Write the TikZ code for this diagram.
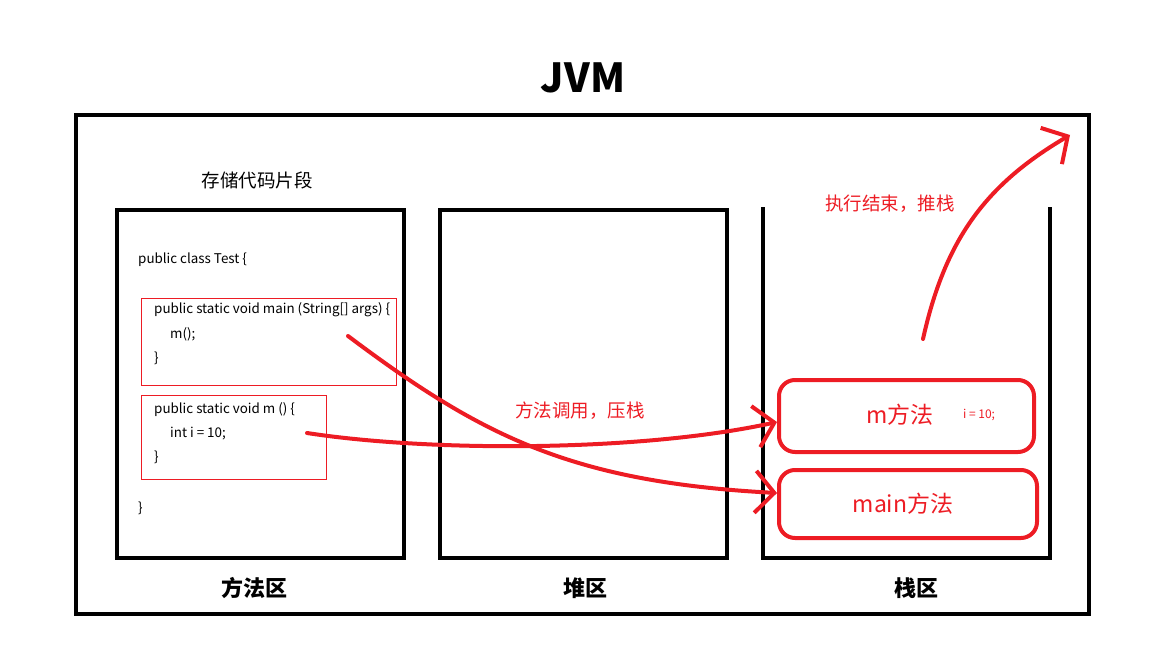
\documentclass[tikz,border=0pt]{standalone}
\usepackage{fontspec}
\setmainfont{Noto Sans CJK SC}
\usetikzlibrary{arrows.meta}
\definecolor{paintred}{HTML}{ED1C24}

\begin{document}
\begin{tikzpicture}[x=1pt, y=-1pt,
    every node/.style={inner sep=0pt},
    area/.style={draw, line width=4pt},
    code/.style={anchor=base west, font=\fontsize{13.4}{16}\selectfont},
    codebox/.style={draw=paintred, line width=1pt},
    frame/.style={draw=paintred, line width=4pt, rounded corners=16pt},
    note/.style={text=paintred, font=\fontsize{18.5}{20}\selectfont},
    areaname/.style={font=\bfseries\fontsize{22}{24}\selectfont},
    push/.style={draw=paintred, line width=4pt, line cap=round,
      -{Straight Barb[length=19pt, width=42pt]}}]
    \useasboundingbox (0,0) rectangle (1152,648);

    % title + outer box
    \node[font=\bfseries\fontsize{40}{44}\selectfont] (jvm) at (583,78) {JVM};
    \draw[area] (76,115) rectangle (1089,614);

    % the three areas
    \draw[area] (117,210) rectangle (404,558);
    \draw[area] (440,210) rectangle (727,558);
    \draw[area] (763,207) -- (763,558) -- (1050,558) -- (1050,207);
    \node[areaname] (methodname) at (254,588) {方法区};
    \node[areaname] (heapname)   at (585,588) {堆区};
    \node[areaname] (stackname)  at (916,588) {栈区};
    \node[font=\fontsize{18.5}{20}\selectfont] (store) at (257,180) {存储代码片段};

    % code in the method area
    \node[code] (cls)   at (138,263) {public class Test \{};
    \draw[codebox] (141,298) rectangle (396,385);
    \node[code] (mainl) at (154,313) {public static void main (String[] args) \{};
    \node[code] (callm) at (170,338) {m();};
    \node[code] (mainr) at (154,362) {\}};
    \draw[codebox] (141,395) rectangle (326,479);
    \node[code] (ml)    at (154,413) {public static void m () \{};
    \node[code] (mi)    at (170,437) {int i = 10;};
    \node[code] (mr)    at (154,461) {\}};
    \node[code] (clsr)  at (138,512) {\}};

    % stack frames
    \node[frame, minimum width=255pt, minimum height=72pt] (mframe) at (906.5,416) {};
    \node[frame, minimum width=258pt, minimum height=68pt] (mainframe) at (908,504) {};
    \node[text=paintred, font=\fontsize{23}{25}\selectfont] (mtext) at (900,415) {m方法};
    \node[text=paintred, font=\fontsize{12}{14}\selectfont] (itext) at (979,415) {i = 10;};
    \node[text=paintred, font=\fontsize{23}{25}\selectfont] (maintext) at (903,504) {main方法};

    % notes
    \node[note] (pushnote) at (580,411) {方法调用，压栈};
    \node[note] (popnote)  at (890,204) {执行结束，推栈};

    % arrows
    \coordinate (mainstart) at (348,336);
    \coordinate (mstart) at (307,433);
    \coordinate (popstart) at (923,339);
    \coordinate (popend) at (1070,135);
    \draw[push] (mainstart) .. controls (480,435) and (570,482) .. ([yshift=11pt]mainframe.west);
    \draw[push] (mstart) .. controls (430,452) and (640,452) .. ([yshift=-6pt]mframe.west);
    \draw[push] (popstart) .. controls (945,240) and (985,185) .. (popend);
  \end{tikzpicture}
\end{document}
